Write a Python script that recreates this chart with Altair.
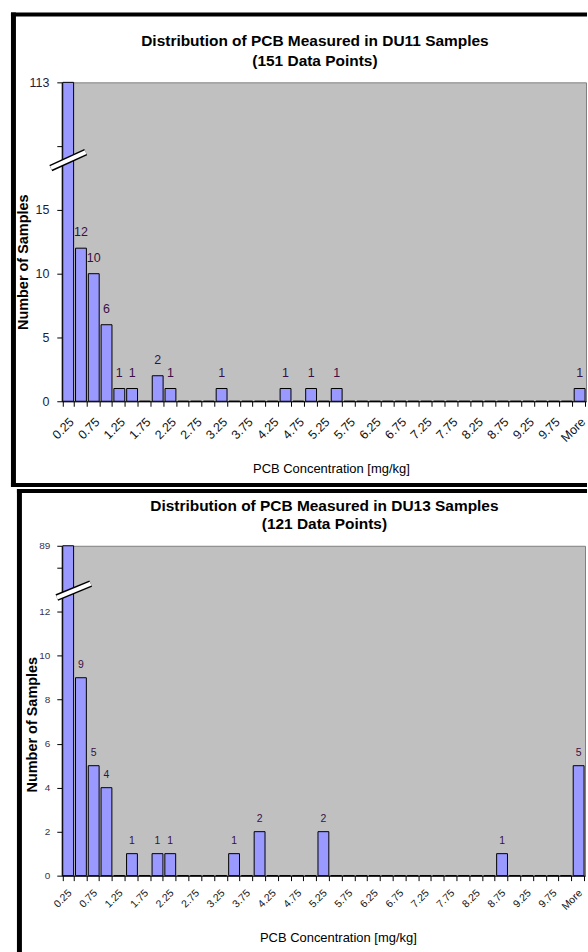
import json
import altair as alt
import pandas as pd

# ---------------- data ----------------
bins = ["0.25", "0.50", "0.75", "1.00", "1.25", "1.50", "1.75", "2.00", "2.25", "2.50",
        "2.75", "3.00", "3.25", "3.50", "3.75", "4.00", "4.25", "4.50", "4.75", "5.00",
        "5.25", "5.50", "5.75", "6.00", "6.25", "6.50", "6.75", "7.00", "7.25", "7.50",
        "7.75", "8.00", "8.25", "8.50", "8.75", "9.00", "9.25", "9.50", "9.75", "10.00",
        "More"]

du11_counts = [113, 12, 10, 6, 1, 1, 0, 2, 1, 0,
               0, 0, 1, 0, 0, 0, 0, 1, 0, 1,
               0, 1, 0, 0, 0, 0, 0, 0, 0, 0,
               0, 0, 0, 0, 0, 0, 0, 0, 0, 0,
               1]
du13_counts = [89, 9, 5, 4, 0, 1, 0, 1, 1, 0,
               0, 0, 0, 1, 0, 2, 0, 0, 0, 0,
               2, 0, 0, 0, 0, 0, 0, 0, 0, 0,
               0, 0, 0, 0, 1, 0, 0, 0, 0, 0,
               5]

du11_title = ["Distribution of PCB Measured in DU11 Samples", "(151 Data Points)"]
du13_title = ["Distribution of PCB Measured in DU13 Samples", "(121 Data Points)"]
x_title = "PCB Concentration  [mg/kg]"
y_title = "Number of Samples"

du11_yticks = [0, 5, 10, 15, 20, 25]          # 25 = broken top (shows the first bar's count)
du13_yticks = [0, 2, 4, 6, 8, 10, 12, 14, 15]  # 15 = broken top

FONT = "Liberation Sans"
BAR_FILL = "#9999FF"
PLOT_BG = "#C0C0C0"
LABEL_COLOR = "#3a0f45"

one = pd.DataFrame({"k": [0]})


def seg(x, y, x2, y2, color="black", sw=1.0):
    return alt.Chart(one).mark_rule(color=color, strokeWidth=sw, strokeCap="butt").encode(
        x=alt.value(x), y=alt.value(y), x2=alt.value(x2), y2=alt.value(y2))


def box(x, x2, y, y2):
    # filled black band (frame edge); no stroke so its bounds are exact
    return alt.Chart(one).mark_rect(fill="black", strokeWidth=0).encode(
        x=alt.value(x), x2=alt.value(x2), y=alt.value(y), y2=alt.value(y2))


def title_line(text, x, y, size):
    return alt.Chart(one).mark_text(
        font=FONT, fontSize=size, fontWeight="bold", color="black",
        align="center", baseline="alphabetic",
    ).encode(x=alt.value(x), y=alt.value(y), text=alt.value(text))


def panel(counts, title, yticks, w, h, st):
    df = pd.DataFrame({"bin": bins, "count": counts, "idx": list(range(len(bins)))})
    ytop = yticks[-1]
    hidden = yticks[-2]
    y_label_expr = (f"datum.value == {ytop} ? '{counts[0]}' : "
                    f"(datum.value == {hidden} ? '' : datum.label)")
    x_label_expr = f"indexof({json.dumps(bins)}, datum.value) % 2 == 1 ? '' : datum.label"

    x_enc = alt.X(
        "bin:N", sort=bins,
        scale=alt.Scale(paddingInner=0.15, paddingOuter=0.075),
        axis=alt.Axis(
            title=x_title, titleFont=FONT, titleFontSize=st["xtitle_size"],
            titleFontWeight="normal", titleColor="black",
            titleX=st["xtitle_x"], titleY=st["xtitle_y"], titleBaseline="middle",
            titleAlign="center", titleAnchor="start",
            labelExpr=x_label_expr, labelAngle=-45, labelAlign="right",
            labelBaseline="top", labelFont=FONT, labelFontSize=st["xlabel_size"],
            labelColor="#111111", labelPadding=st["xlabel_pad"],
            labelOffset=st["xlabel_off"],
            labelOverlap=False, tickBand="extent", tickSize=5, tickColor="black",
            domainColor="black", domainWidth=1, grid=False,
        ),
    )
    y_enc = alt.Y(
        "count:Q",
        scale=alt.Scale(domain=[0, ytop], clamp=True, nice=False, zero=True),
        axis=alt.Axis(
            values=yticks, labelExpr=y_label_expr, grid=False,
            title=y_title, titleFont=FONT, titleFontSize=st["ytitle_size"],
            titleFontWeight="bold", titleColor="black",
            titleX=st["ytitle_x"], titleY=st["ytitle_y"], titleBaseline="middle",
            titleAlign="center", titleAngle=-90, titleAnchor="start",
            labelFont=FONT, labelFontSize=st["ylabel_size"], labelColor=st["ylabel_color"],
            labelPadding=st["ylabel_pad"], tickSize=5, tickColor="black",
            domainColor="black", domainWidth=1,
        ),
    )

    base = alt.Chart(df)
    bars = base.mark_bar(fill=BAR_FILL, stroke="black", strokeWidth=1).encode(x=x_enc, y=y_enc)
    labels = base.transform_filter("datum.idx > 0 && datum.count > 0").mark_text(
        font=FONT, fontSize=st["data_size"], color=LABEL_COLOR, baseline="bottom",
        dy=-st["data_gap"],
    ).encode(x=alt.X("bin:N", sort=bins), y=alt.Y("count:Q"), text="count:Q")

    bx0, by0, bx1, by1 = st["brk"]
    brk_black = seg(bx0, by0, bx1, by1, color="black", sw=7)
    brk_white = seg(bx0, by0, bx1, by1, color="white", sw=4)

    frame = [box(*b) for b in st["frame"]]

    tx, ty1, ty2 = st["title_pos"]
    titles = [title_line(title[0], tx, ty1, st["title_size"]),
              title_line(title[1], tx, ty2, st["title_size"])]

    return alt.layer(bars, labels, brk_black, brk_white, *titles, *frame).properties(
        width=w, height=h,
    )


# panel 1 plot origin lands at (61, 80) of the page
p1 = panel(du11_counts, du11_title, du11_yticks, 526, 320, {
    "xtitle_size": 13, "xtitle_x": 270, "xtitle_y": 67,
    "xlabel_size": 12.5, "xlabel_pad": 9, "xlabel_off": -1,
    "ytitle_size": 14.5, "ytitle_x": -38, "ytitle_y": 180,
    "ylabel_size": 12.5, "ylabel_color": "#1c1c3c", "ylabel_pad": 8,
    "data_size": 12.5, "data_gap": 9,
    "brk": (-11, 86, 24, 70),
    "frame": [(-51, -46, -70, 406), (-51, 527, -70, -66), (-51, 527, 402, 406)],
    "title_size": 15.5, "title_pos": (254, -36, -16),
})
# panel 2 plot origin lands at (61, 543) of the page
p2 = panel(du13_counts, du13_title, du13_yticks, 525, 331, {
    "xtitle_size": 13, "xtitle_x": 277, "xtitle_y": 62.5,
    "xlabel_size": 10.5, "xlabel_pad": 7, "xlabel_off": -2,
    "ytitle_size": 14.5, "ytitle_x": -29, "ytitle_y": 179,
    "ylabel_size": 10, "ylabel_color": "#3c3050", "ylabel_pad": 7,
    "data_size": 10.5, "data_gap": 8,
    "brk": (-5, 52, 29, 38),
    "frame": [(-45, -40, -57, 409), (-45, 527, -57, -53)],
    "title_size": 15.5, "title_pos": (263.5, -35, -17),
})

chart = alt.vconcat(p1, p2, spacing=0).properties(
    padding={"left": 10, "top": 10, "right": 0, "bottom": 0},
    background="white",
).configure_view(fill=PLOT_BG, stroke="#808080", strokeWidth=1)

chart.save("out.html", embed_options={"renderer": "svg", "actions": False})
